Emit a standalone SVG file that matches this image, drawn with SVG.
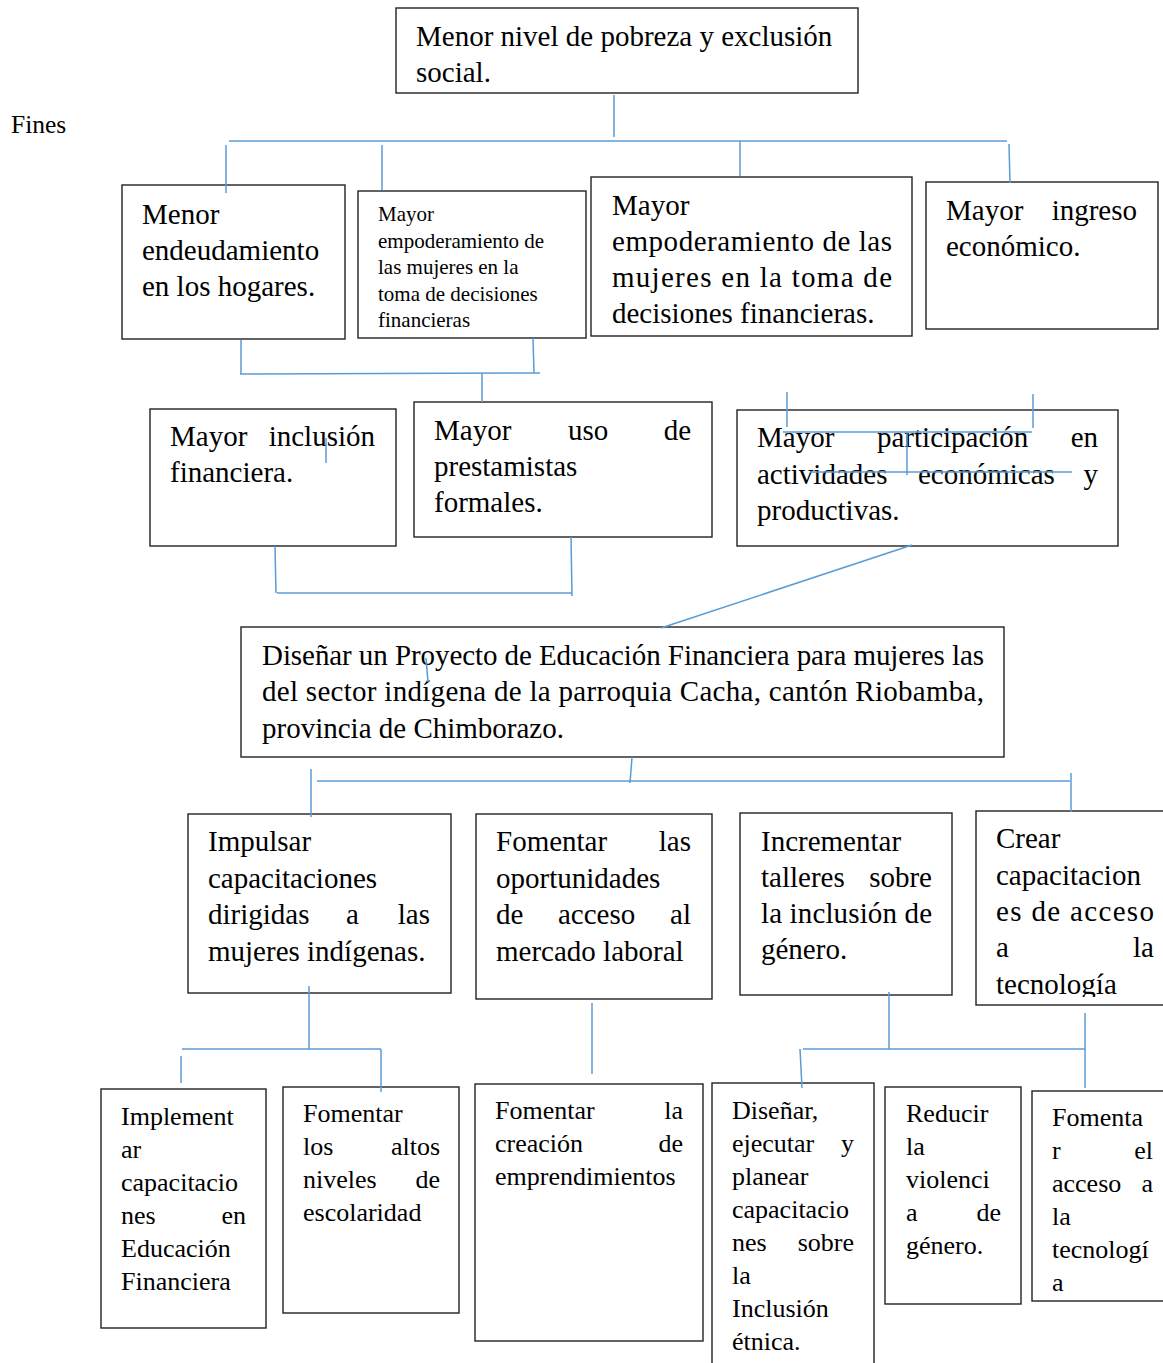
<svg xmlns="http://www.w3.org/2000/svg" width="1163" height="1363" viewBox="0 0 1163 1363">
<style>
.box{fill:#fff;stroke:#222;stroke-width:1.4}
.t{font-family:"Liberation Serif","Times New Roman",serif;font-size:29px;fill:#000}
.s{font-family:"Liberation Serif","Times New Roman",serif;font-size:21px;fill:#000}
.m{font-family:"Liberation Serif","Times New Roman",serif;font-size:26px;fill:#000}
.e{text-anchor:end}
#connectors path{fill:none;stroke:#5B9BD5;stroke-width:1.5}
</style>
<defs>
<clipPath id="clipK"><rect x="976" y="811" width="200" height="186"/></clipPath>
</defs>
<rect width="1163" height="1363" fill="#fff"/>
<text class="t" x="11" y="133" style="font-size:25.5px">Fines</text>

<g id="n-top"><rect class="box" x="396" y="8" width="462" height="85"/>
<text class="t" x="416" y="46">Menor nivel de pobreza y exclusión</text>
<text class="t" x="416" y="82">social.</text></g>

<g id="n-a"><rect class="box" x="122" y="185" width="223" height="154"/>
<text class="t" x="142" y="224">Menor</text>
<text class="t" x="142" y="260">endeudamiento</text>
<text class="t" x="142" y="296">en los hogares.</text></g>

<g id="n-b"><rect class="box" x="358" y="191" width="228" height="147"/>
<text class="s" x="378" y="221">Mayor</text>
<text class="s" x="378" y="247.5">empoderamiento de</text>
<text class="s" x="378" y="274">las mujeres en la</text>
<text class="s" x="378" y="300.5">toma de decisiones</text>
<text class="s" x="378" y="327">financieras</text></g>

<g id="n-c"><rect class="box" x="591" y="177" width="321" height="159"/>
<text class="t" x="612" y="215">Mayor</text>
<text class="t" x="612" y="251" textLength="280" lengthAdjust="spacing">empoderamiento de las</text>
<text class="t" x="612" y="287" textLength="280" lengthAdjust="spacing">mujeres en la toma de</text>
<text class="t" x="612" y="323">decisiones financieras.</text></g>

<g id="n-d"><rect class="box" x="926" y="182" width="232" height="147"/>
<text class="t" y="220"><tspan x="946">Mayor</tspan><tspan class="e" x="1137">ingreso</tspan></text>
<text class="t" x="946" y="256">económico.</text></g>

<g id="n-e"><rect class="box" x="150" y="409" width="246" height="137"/>
<text class="t" y="446"><tspan x="170">Mayor</tspan><tspan class="e" x="375">inclusión</tspan></text>
<text class="t" x="170" y="482">financiera.</text></g>

<g id="n-f"><rect class="box" x="414" y="402" width="298" height="135"/>
<text class="t" y="440"><tspan x="434">Mayor</tspan><tspan x="568">uso</tspan><tspan class="e" x="691">de</tspan></text>
<text class="t" x="434" y="476">prestamistas</text>
<text class="t" x="434" y="512">formales.</text></g>

<g id="n-g"><rect class="box" x="737" y="410" width="381" height="136"/>
<text class="t" y="447"><tspan x="757">Mayor</tspan><tspan x="877">participación</tspan><tspan class="e" x="1098">en</tspan></text>
<text class="t" y="484"><tspan x="757">actividades</tspan><tspan x="918">económicas</tspan><tspan class="e" x="1098">y</tspan></text>
<text class="t" x="757" y="520">productivas.</text></g>

<g id="n-s"><rect class="box" x="241" y="627" width="763" height="130"/>
<text class="t" x="262" y="665" textLength="722" lengthAdjust="spacing">Diseñar un Proyecto de Educación Financiera para mujeres las</text>
<text class="t" x="262" y="701" textLength="722" lengthAdjust="spacing">del sector indígena de la parroquia Cacha, cantón Riobamba,</text>
<text class="t" x="262" y="738">provincia de Chimborazo.</text></g>

<g id="n-h"><rect class="box" x="188" y="814" width="263" height="179"/>
<text class="t" x="208" y="851">Impulsar</text>
<text class="t" x="208" y="888">capacitaciones</text>
<text class="t" y="924"><tspan x="208">dirigidas</tspan><tspan x="346">a</tspan><tspan class="e" x="430">las</tspan></text>
<text class="t" x="208" y="961">mujeres indígenas.</text></g>

<g id="n-i"><rect class="box" x="476" y="814" width="236" height="185"/>
<text class="t" y="851"><tspan x="496">Fomentar</tspan><tspan class="e" x="691">las</tspan></text>
<text class="t" x="496" y="888">oportunidades</text>
<text class="t" y="924"><tspan x="496">de</tspan><tspan x="558">acceso</tspan><tspan class="e" x="691">al</tspan></text>
<text class="t" x="496" y="961">mercado laboral</text></g>

<g id="n-j"><rect class="box" x="740" y="813" width="212" height="182"/>
<text class="t" x="761" y="851">Incrementar</text>
<text class="t" y="887"><tspan x="761">talleres</tspan><tspan class="e" x="932">sobre</tspan></text>
<text class="t" x="761" y="923" textLength="171" lengthAdjust="spacing">la inclusión de</text>
<text class="t" x="761" y="959">género.</text></g>

<g id="n-k"><rect class="box" x="976" y="811" width="200" height="194"/>
<g clip-path="url(#clipK)">
<text class="t" x="996" y="848">Crear</text>
<text class="t" x="996" y="885">capacitacion</text>
<text class="t" x="996" y="921" textLength="158" lengthAdjust="spacing">es de acceso</text>
<text class="t" y="957"><tspan x="996">a</tspan><tspan class="e" x="1154">la</tspan></text>
<text class="t" x="996" y="994">tecnología</text></g></g>

<g id="n-l"><rect class="box" x="101" y="1089" width="165" height="239"/>
<text class="m" x="121" y="1125">Implement</text>
<text class="m" x="121" y="1158">ar</text>
<text class="m" x="121" y="1191">capacitacio</text>
<text class="m" y="1224"><tspan x="121">nes</tspan><tspan class="e" x="246">en</tspan></text>
<text class="m" x="121" y="1257">Educación</text>
<text class="m" x="121" y="1290">Financiera</text></g>

<g id="n-m"><rect class="box" x="283" y="1087" width="176" height="226"/>
<text class="m" x="303" y="1122">Fomentar</text>
<text class="m" y="1155"><tspan x="303">los</tspan><tspan class="e" x="440">altos</tspan></text>
<text class="m" y="1188"><tspan x="303">niveles</tspan><tspan class="e" x="440">de</tspan></text>
<text class="m" x="303" y="1221">escolaridad</text></g>

<g id="n-n"><rect class="box" x="475" y="1084" width="228" height="257"/>
<text class="m" y="1119"><tspan x="495">Fomentar</tspan><tspan class="e" x="683">la</tspan></text>
<text class="m" y="1152"><tspan x="495">creación</tspan><tspan class="e" x="683">de</tspan></text>
<text class="m" x="495" y="1185">emprendimientos</text></g>

<g id="n-o"><rect class="box" x="712" y="1083" width="162" height="290"/>
<text class="m" x="732" y="1119">Diseñar,</text>
<text class="m" y="1152"><tspan x="732">ejecutar</tspan><tspan class="e" x="854">y</tspan></text>
<text class="m" x="732" y="1185">planear</text>
<text class="m" x="732" y="1218">capacitacio</text>
<text class="m" y="1251"><tspan x="732">nes</tspan><tspan class="e" x="854">sobre</tspan></text>
<text class="m" x="732" y="1284">la</text>
<text class="m" x="732" y="1317">Inclusión</text>
<text class="m" x="732" y="1350">étnica.</text></g>

<g id="n-p"><rect class="box" x="885" y="1087" width="136" height="217"/>
<text class="m" x="906" y="1122">Reducir</text>
<text class="m" x="906" y="1155">la</text>
<text class="m" x="906" y="1188">violenci</text>
<text class="m" y="1221"><tspan x="906">a</tspan><tspan class="e" x="1001">de</tspan></text>
<text class="m" x="906" y="1254">género.</text></g>

<g id="n-q"><rect class="box" x="1032" y="1091" width="140" height="210"/>
<text class="m" x="1052" y="1126">Fomenta</text>
<text class="m" y="1159"><tspan x="1052">r</tspan><tspan class="e" x="1153">el</tspan></text>
<text class="m" y="1192"><tspan x="1052">acceso</tspan><tspan class="e" x="1153">a</tspan></text>
<text class="m" x="1052" y="1225">la</text>
<text class="m" x="1052" y="1258">tecnologí</text>
<text class="m" x="1052" y="1291">a</text></g>

<g id="connectors">
<path d="M614,95 V137"/>
<path d="M229,141 H1007"/>
<path d="M226,145 V193"/>
<path d="M382,145 V190"/>
<path d="M740,141 V176"/>
<path d="M1009,144 L1010,183"/>
<path d="M241,340 V374"/>
<path d="M240,374 L540,373"/>
<path d="M533,338 L534,373"/>
<path d="M482,373 V402"/>
<path d="M326,438 V463"/>
<path d="M787,392 V427"/>
<path d="M1033,394 V428"/>
<path d="M783,432 H1032"/>
<path d="M907,432 V475"/>
<path d="M810,472 H1072"/>
<path d="M912,545 L661,628"/>
<path d="M275,546 L276,593"/>
<path d="M277,593 H572"/>
<path d="M571,537 L572,596"/>
<path d="M426,658 L428,682"/>
<path d="M632,757 L630,783"/>
<path d="M317,781 H1070"/>
<path d="M311,769 V817"/>
<path d="M1071,773 V812"/>
<path d="M309,986 V1049"/>
<path d="M182,1049 H381"/>
<path d="M381,1049 V1092"/>
<path d="M181,1056 V1083"/>
<path d="M592,1003 V1074"/>
<path d="M889,992 V1049"/>
<path d="M803,1049 H1085"/>
<path d="M800,1049 L802,1088"/>
<path d="M1085,1013 V1088"/>
</g>
</svg>
